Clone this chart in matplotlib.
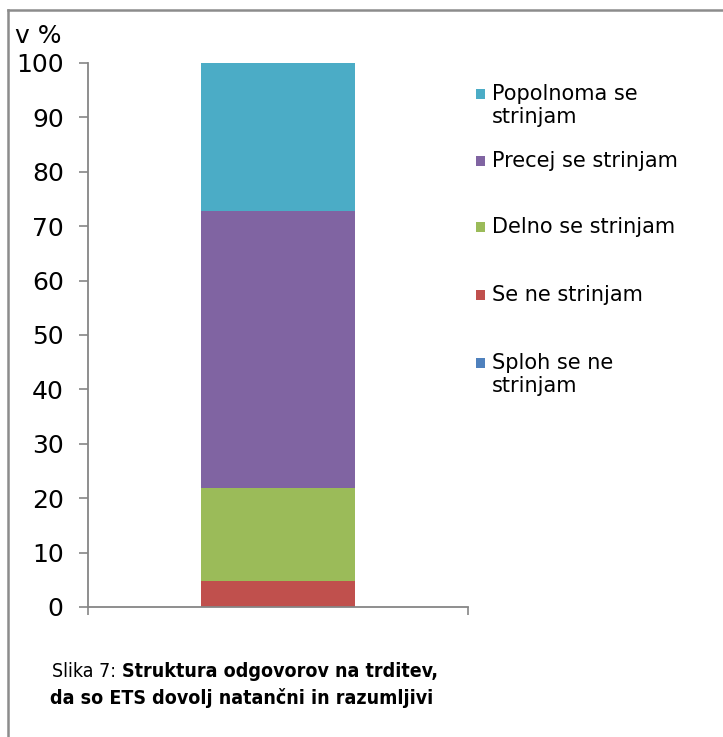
import matplotlib
matplotlib.use("Agg")
import matplotlib.pyplot as plt
from matplotlib.lines import Line2D
from matplotlib.patches import Rectangle
from matplotlib import font_manager
from matplotlib.font_manager import FontProperties
import os

# ---- data ----
categories = ["Sploh se ne strinjam", "Se ne strinjam", "Delno se strinjam",
              "Precej se strinjam", "Popolnoma se strinjam"]
legend_labels = ["Sploh se ne\nstrinjam", "Se ne strinjam", "Delno se strinjam",
                 "Precej se strinjam", "Popolnoma se\nstrinjam"]
values = [0.0, 4.7, 17.2, 50.9, 27.2]
colors = ["#4F81BD", "#C0504D", "#9BBB59", "#8064A2", "#4BACC6"]
yticks = [0, 10, 20, 30, 40, 50, 60, 70, 80, 90, 100]

W, H = 723, 737
fig = plt.figure(figsize=(W / 100, H / 100), dpi=100)
fig.patch.set_facecolor("white")

ax = fig.add_axes([88 / W, 1 - 607 / H, 380 / W, 544 / H])
bottom = 0.0
for v, c, lab in zip(values, colors, categories):
    ax.bar(0.0, v, width=0.405, bottom=bottom, color=c, label=lab, linewidth=0)
    bottom += v

ax.set_xlim(-0.5, 0.5)
ax.set_ylim(0, 100)
ax.set_yticks(yticks)
ax.set_yticklabels([str(t) for t in yticks], fontsize=18, family="DejaVu Sans")
ax.set_xticks([])
ax.set_xticks([-0.5, 0.5], minor=True)
ax.tick_params(axis="x", which="minor", direction="out", length=6, width=1.2,
               color="#868686", labelbottom=False)
ax.tick_params(axis="y", which="major", direction="out", length=6.5, width=1.2,
               color="#868686", pad=11)
for s in ["top", "right"]:
    ax.spines[s].set_visible(False)
for s in ["left", "bottom"]:
    ax.spines[s].set_color("#868686")
    ax.spines[s].set_linewidth(1.3)

# y-axis unit label
fig.text(15 / W, 1 - 36 / H, "v %", fontsize=18, family="DejaVu Sans",
         va="center", ha="left")

# legend (manual, Excel-style slots)
slot_y = [94, 161, 227, 295, 363]
order = [4, 3, 2, 1, 0]
for yy, idx in zip(slot_y, order):
    fig.patches.append(Rectangle((476 / W, 1 - (yy + 5) / H), 9 / W, 10 / H,
                                 transform=fig.transFigure, color=colors[idx],
                                 linewidth=0))
    fig.text(492 / W, 1 - (yy - 10) / H, legend_labels[idx], fontsize=15,
             family="DejaVu Sans", va="top", ha="left", linespacing=1.2)

# outer frame lines
fig.add_artist(Line2D([8 / W, 1.0], [1 - 10 / H, 1 - 10 / H], color="#8c8c8c",
                      linewidth=1.8, transform=fig.transFigure))
fig.add_artist(Line2D([8 / W, 8 / W], [1 - 10 / H, 0.0], color="#8c8c8c",
                      linewidth=1.8, transform=fig.transFigure))

# caption font: look for a condensed / narrow face
reg_file = bold_file = None
files = [f.fname for f in font_manager.fontManager.ttflist]
for pref_r, pref_b, size in [("LiberationSansNarrow-Regular", "LiberationSansNarrow-Bold", 16),
                             ("DejaVuSansCondensed.", "DejaVuSansCondensed-Bold.", 14),
                             ("RobotoCondensed-Regular", "RobotoCondensed-Bold", 15)]:
    r = [f for f in files if os.path.basename(f).startswith(pref_r)]
    b = [f for f in files if os.path.basename(f).startswith(pref_b)]
    if r and b:
        reg_file, bold_file, cap_size = r[0], b[0], size
        break

if reg_file:
    fp_r = FontProperties(fname=reg_file, size=cap_size)
    fp_b = FontProperties(fname=bold_file, size=cap_size)
else:
    cap_size = 15
    fp_r = FontProperties(family="Liberation Sans", size=cap_size)
    fp_b = FontProperties(family="Liberation Sans", weight="bold", size=cap_size)

t1 = fig.text(52 / W, 1 - 677 / H, "Slika 7: ", fontproperties=fp_r,
              ha="left", va="baseline")
ax.annotate("Struktura odgovorov na trditev,", xy=(1, 0), xycoords=t1,
            fontproperties=fp_b, ha="left", va="bottom", annotation_clip=False)
fig.text(242 / W, 1 - 704 / H, "da so ETS dovolj natančni in razumljivi",
         fontproperties=fp_b, ha="center", va="baseline")

fig.savefig("out.png", dpi=100, facecolor="white")
